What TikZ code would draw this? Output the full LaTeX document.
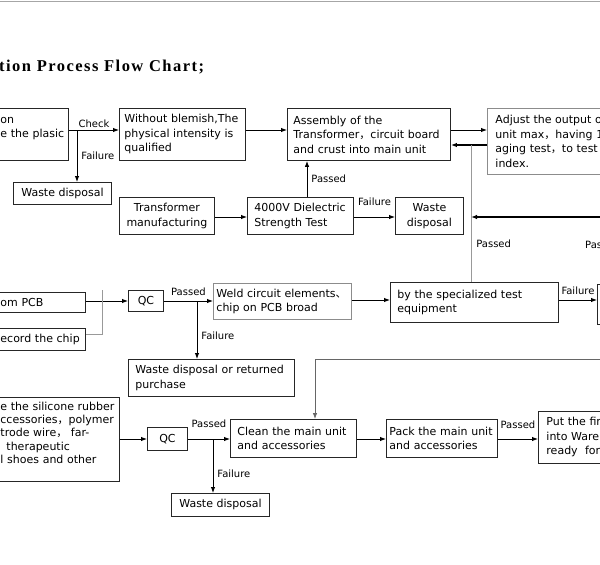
\documentclass[tikz,border=0pt]{standalone}
\usepackage{fontspec}
\setmainfont{DejaVu Sans}
\newfontfamily\titlefont{Liberation Serif}[LetterSpace=9]
\newfontfamily\cjk{Noto Sans CJK SC}
\usepackage{tikz}
\usetikzlibrary{positioning, calc, arrows.meta}
\newcommand{\fwc}{{\cjk ，}}
\newcommand{\fwd}{{\cjk 、}}

\begin{document}
\begin{tikzpicture}[x=1pt, y=-1pt, >={Latex[length=6pt,width=4.5pt]},
    box/.style={draw=black!85, line width=0.9pt, anchor=north west, inner ysep=0pt, font=\fontsize{11}{14.5}\selectfont},
    lbox/.style={box, align=left},
    cbox/.style={box, align=center},
    pale/.style={draw=black!45},
    lbl/.style={font=\fontsize{10}{11}\selectfont, inner sep=1pt, text=black},
    flow/.style={->, line width=0.9pt},
    back/.style={->, line width=1.6pt},
    guide/.style={line width=0.7pt, draw=black!40}]
    \useasboundingbox (0,0) rectangle (600,565);
    \clip (0,0) rectangle (600,565);

    % Frame and title
    \draw[black!35, line width=1pt] (0,1) -- (600,1);
    \node[anchor=west, inner sep=0pt, font=\titlefont\bfseries\fontsize{16.5}{18}\selectfont] (title) at (-1,67) {tion Process Flow Chart;};

    % Row 1
    \node[lbox, inner xsep=3pt, text width=65pt, minimum height=52pt] (mold) at (-3,108) {on\\e the plasic\\\mbox{}};
    \node[lbox, inner xsep=5pt, text width=116pt, minimum height=52pt] (inspect) at (119,108) {Without blemish,The\\physical intensity is\\qualified};
    \node[cbox, minimum width=98pt, minimum height=22pt] (waste1) at (13,182) {Waste disposal};
    \node[lbox, inner xsep=6pt, text width=151pt, minimum height=52pt] (assembly) at (287,108) {Assembly of the\\Transformer\fwc circuit board\\and crust into main unit};
    \node[lbox, pale, inner xsep=8pt, text width=150pt, minimum height=66pt] (adjust) at (487,108) {Adjust the output o\\unit max\fwc having 1\\aging test\fwc to test\\index.};

    % Row 2
    \node[cbox, minimum width=95pt, minimum height=37pt] (trafo) at (119,197) {Transformer\\manufacturing};
    \node[lbox, inner xsep=7pt, text width=92pt, minimum height=37pt] (hipot) at (247,197) {4000V Dielectric\\Strength Test};
    \node[cbox, minimum width=68pt, minimum height=37pt] (waste2) at (395,197) {Waste\\disposal};

    % Row 3
    \node[lbox, inner xsep=3pt, text width=82pt, minimum height=20pt] (pcb) at (-3,292) {om PCB};
    \node[lbox, inner xsep=3pt, text width=82pt, minimum height=22pt] (chip) at (-3,328) {ecord the chip};
    \node[cbox, minimum width=35pt, minimum height=21pt] (qc1) at (128,290) {QC};
    \node[lbox, pale, inner xsep=3pt, text width=132pt, minimum height=36pt] (weld) at (213,283) {Weld circuit elements\fwd\\chip on PCB broad};
    \node[lbox, inner xsep=7pt, text width=154pt, minimum height=40pt] (test) at (390,282) {by the specialized test\\equipment};
    \node[box, minimum width=30pt, minimum height=40pt] (next) at (597,284) {};
    \node[lbox, inner xsep=7pt, text width=152pt, minimum height=37pt] (waste3) at (128,359) {Waste disposal or returned\\purchase};

    % Row 4
    \node[lbox, inner xsep=3pt, text width=116pt, minimum height=84pt, font=\fontsize{11}{13.3}\selectfont] (silicone) at (-3,397) {e the silicone rubber\\ccessories\fwc polymer\\trode wire\fwc\ far-\\\hspace*{6pt}therapeutic\\l shoes and other\\\mbox{}};
    \node[cbox, minimum width=40pt, minimum height=23pt] (qc2) at (147,427) {QC};
    \node[cbox, minimum width=98pt, minimum height=23pt] (waste4) at (171,493) {Waste disposal};
    \node[lbox, inner xsep=7pt, text width=112pt, minimum height=38pt] (clean) at (230,419) {Clean the main unit\\and accessories};
    \node[lbox, inner xsep=3pt, text width=105pt, minimum height=38pt] (pack) at (386,419) {Pack the main unit\\and accessories};
    \node[lbox, inner xsep=8pt, text width=80pt, minimum height=52pt] (store) at (538,411) {Put the fir\\into Ware\\ready\ \ for};

    % Connectors, row 1
    \coordinate (r1) at (0,130);
    \coordinate (r1b) at (0,145);
    \coordinate (chk) at (77,130);
    \coordinate (tap) at (471,145);
    \draw[flow] (mold.east |- r1) -- (inspect.west |- r1) node[lbl, midway, above=1pt] {Check};
    \draw[flow] (chk) -- (chk |- waste1.north) node[lbl, midway, right=3pt] {Failure};
    \draw[flow] (inspect.east |- r1) -- (assembly.west |- r1);
    \draw[flow] (assembly.east |- r1) -- (adjust.west |- r1);
    \draw[back] (adjust.west |- r1b) -- (assembly.east |- r1b);
    \draw[guide] (test.north -| tap) -- (tap) node[lbl, pos=0.28, right=4pt] {Passed};

    % Connectors, row 2
    \coordinate (r2) at (0,217);
    \coordinate (hv) at (307,0);
    \coordinate (rin) at (610,217);
    \draw[flow] (hipot.north -| hv) -- (assembly.south -| hv) node[lbl, midway, right=3pt] {Passed};
    \draw[flow] (trafo.east |- r2) -- (hipot.west |- r2);
    \draw[flow] (hipot.east |- r2) -- (waste2.west |- r2) node[lbl, midway, above=10pt] {Failure};
    \draw[back] (rin) -- (tap |- rin);
    \node[lbl, anchor=west] (passr) at (584,245) {Passed};

    % Connectors, row 3
    \coordinate (r3) at (0,301);
    \coordinate (r3w) at (0,300);
    \coordinate (r3c) at (0,334);
    \coordinate (cj) at (102,290);
    \coordinate (f3) at (197,301);
    \draw[flow] (pcb.east |- r3) -- (qc1.west |- r3);
    \draw[guide] (chip.east |- r3c) -| (cj);
    \draw[flow] (qc1.east |- r3) -- (weld.west |- r3) node[lbl, midway, above=4pt] {Passed};
    \draw[flow] (f3) -- (f3 |- waste3.north) node[lbl, pos=0.6, right=3pt] {Failure};
    \draw[flow] (weld.east |- r3w) -- (test.west |- r3w);
    \draw[flow] (test.east |- r3w) -- (next.west |- r3w) node[lbl, midway, above=4pt] {Failure};

    % Connectors, row 4
    \coordinate (r4) at (0,439);
    \coordinate (f4) at (213,439);
    \coordinate (r4t) at (610,359);
    \coordinate (cv) at (315,0);
    \draw[flow] (silicone.east |- r4) -- (qc2.west |- r4);
    \draw[flow] (qc2.east |- r4) -- (clean.west |- r4) node[lbl, midway, above=10pt] {Passed};
    \draw[flow] (f4) -- (f4 |- waste4.north) node[lbl, pos=0.65, right=3pt] {Failure};
    \draw[flow] (clean.east |- r4) -- (pack.west |- r4);
    \draw[flow] (pack.east |- r4) -- (store.west |- r4) node[lbl, midway, above=9pt] {Passed};
    \draw[flow, draw=black!60, line width=0.8pt] (r4t) -| (clean.north -| cv);
\end{tikzpicture}
\end{document}
